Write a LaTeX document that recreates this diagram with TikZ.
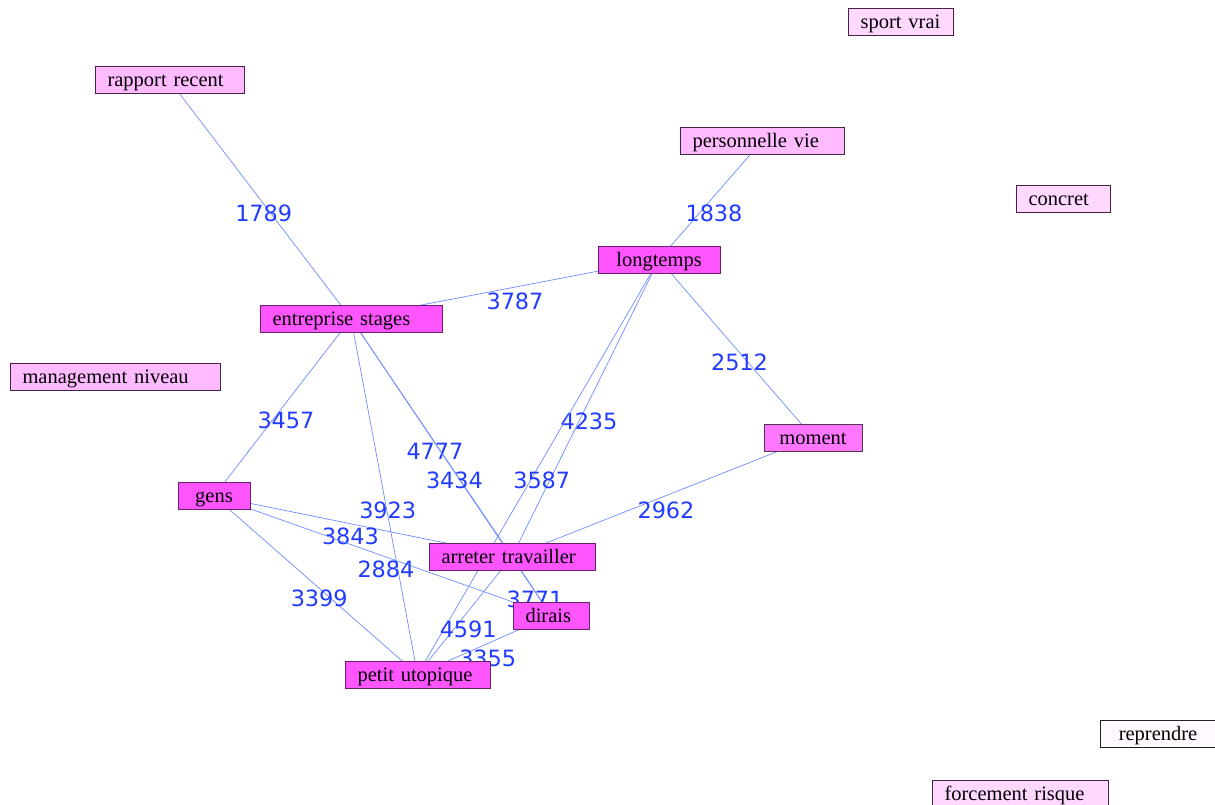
\documentclass[tikz,border=0pt]{standalone}
\usepackage{fontspec}
\setmainfont{Liberation Serif}
\newfontfamily\lblfont{DejaVu Sans}
\definecolor{strongfill}{RGB}{255,85,255}
\definecolor{strongdraw}{RGB}{102,34,102}
\definecolor{midfill}{RGB}{255,119,255}
\definecolor{middraw}{RGB}{85,51,85}
\definecolor{lightfill}{RGB}{255,187,255}
\definecolor{vlightfill}{RGB}{255,216,255}
\definecolor{paledraw}{RGB}{68,34,68}
\definecolor{whitefill}{RGB}{255,248,255}
\definecolor{whitedraw}{RGB}{34,34,34}
\definecolor{edgeblue}{RGB}{110,140,255}
\definecolor{lblblue}{RGB}{34,60,255}
\pgfdeclarelayer{bg}
\pgfsetlayers{bg,main}
\begin{document}
\begin{tikzpicture}[x=1pt,y=-1pt,
  nb/.style={draw, line width=1pt, minimum height=27pt, inner xsep=12.5pt, inner ysep=5.5pt,
    text height=14.5pt, text depth=1.5pt, font=\fontsize{20.5}{22}\selectfont},
  strong/.style={nb, fill=strongfill, draw=strongdraw},
  mid/.style={nb, fill=midfill, draw=middraw},
  light/.style={nb, fill=lightfill, draw=paledraw},
  vlight/.style={nb, fill=vlightfill, draw=paledraw},
  plain/.style={nb, fill=whitefill, draw=whitedraw},
  link/.style={draw=edgeblue, line width=0.7pt},
  lbl/.style={font=\lblfont\fontsize{22.4}{24}\selectfont, text=lblblue, inner sep=0pt,
    pos=0.5, xshift=3.5pt, yshift=-13.5pt}
]
\useasboundingbox (0,0) rectangle (1215,805);

\node[vlight, text width=80pt, align=center] (sport) at (900.5,22) {sport vrai};
\node[light, text width=124pt, align=left] (rapport) at (169.5,80.5) {rapport recent};
\node[light, text width=139pt, align=left] (perso) at (762,141) {personnelle vie};
\node[vlight, text width=69pt, align=left] (concret) at (1063,199) {concret};
\node[strong, text width=97pt, align=center] (longtemps) at (659,259.5) {longtemps};
\node[strong, text width=157pt, align=left] (entreprise) at (351,318.5) {entreprise stages};
\node[light, text width=185pt, align=left] (management) at (115,377) {management niveau};
\node[mid, text width=73pt, align=center] (moment) at (813,437.5) {moment};
\node[strong, text width=47pt, align=center] (gens) at (214,496) {gens};
\node[strong, text width=141pt, align=left] (arreter) at (512,556.5) {arreter travailler};
\node[strong, text width=51pt, align=left] (dirais) at (551,615.5) {dirais};
\node[strong, text width=120pt, align=left] (petit) at (417.5,674.5) {petit utopique};
\node[plain, text width=91pt, align=center] (reprendre) at (1158,734) {reprendre};
\node[vlight, text width=151pt, align=left] (forcement) at (1020,793.5) {forcement risque};

\begin{pgfonlayer}{bg}
\fill[white] (0,0) rectangle (1215,805);
\draw[link] (rapport.center) -- node[lbl]{1789} (entreprise.center);
\draw[link] (perso.center) -- node[lbl]{1838} (longtemps.center);
\draw[link] (entreprise.center) -- node[lbl, xshift=6.5pt, yshift=1pt]{3787} (longtemps.center);
\draw[link] (longtemps.center) -- node[lbl]{2512} (moment.center);
\draw[link] (entreprise.center) -- node[lbl]{3457} (gens.center);
\draw[link] (entreprise.center) -- node[lbl]{4777} (arreter.center);
\draw[link] (entreprise.center) -- node[lbl]{3434} (dirais.center);
\draw[link] (longtemps.center) -- node[lbl]{4235} (arreter.center);
\draw[link] (longtemps.center) -- node[lbl]{3587} (petit.center);
\draw[link] (entreprise.center) -- node[lbl]{3923} (petit.center);
\draw[link] (moment.center) -- node[lbl]{2962} (arreter.center);
\draw[link] (gens.center) -- node[lbl, xshift=-16pt, yshift=3.5pt]{3843} (arreter.center);
\draw[link] (gens.center) -- node[lbl]{2884} (dirais.center);
\draw[link] (gens.center) -- node[lbl]{3399} (petit.center);
\draw[link] (arreter.center) -- node[lbl]{3771} (dirais.center);
\draw[link] (arreter.center) -- node[lbl]{4591} (petit.center);
\draw[link] (dirais.center) -- node[lbl]{3355} (petit.center);
\end{pgfonlayer}
\end{tikzpicture}
\end{document}
